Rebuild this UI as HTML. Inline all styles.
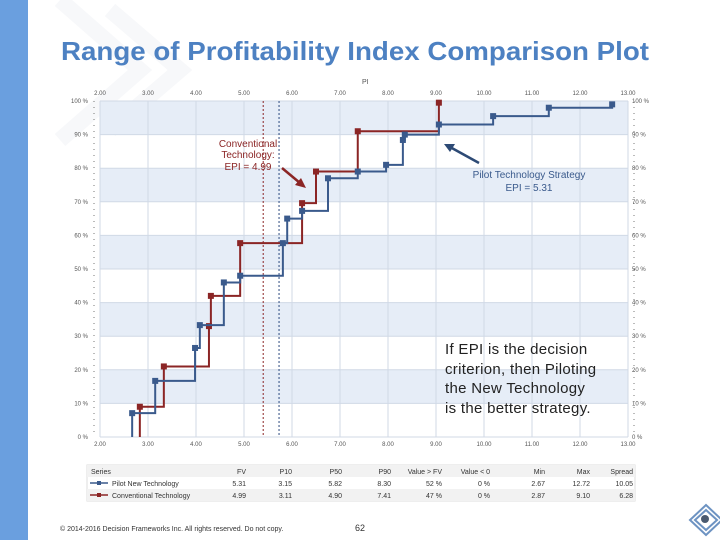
<!DOCTYPE html>
<html><head><meta charset="utf-8"><style>
body{margin:0;width:720px;height:540px;overflow:hidden;background:#fff;font-family:"Liberation Sans",sans-serif;position:relative}
</style></head><body>
<div style="position:absolute;left:0;top:0;width:28px;height:540px;background:#6a9fdf"></div>
<svg id="chart" width="720" height="540" style="position:absolute;left:0;top:0">
<g fill="none" stroke="#f7f8fa" stroke-width="16">
<polyline points="110,10 180,70 110,130"/><polyline points="60,0 140,70 60,140"/>
</g>
<text x="355" y="60" text-anchor="middle" font-size="26" font-weight="bold" fill="#4d81c2" textLength="588" lengthAdjust="spacingAndGlyphs">Range of Profitability Index Comparison Plot</text>
<text x="362" y="84" font-size="7" fill="#555">PI</text>
<g id="grid"></g><g id="series"></g>
<g fill="#8b2525" font-size="10" text-anchor="middle">
<text x="248" y="147">Conventional</text><text x="248" y="158">Technology:</text><text x="248" y="170">EPI = 4.99</text>
</g>
<line x1="282" y1="168" x2="300" y2="183" stroke="#8b2525" stroke-width="2.5"/>
<polygon points="306,188 295,185 301,178" fill="#8b2525"/>
<g fill="#3a5a8c" font-size="10" text-anchor="middle">
<text x="529" y="178">Pilot Technology Strategy</text><text x="529" y="191">EPI = 5.31</text>
</g>
<line x1="479" y1="163" x2="450" y2="147" stroke="#2d4a75" stroke-width="2.5"/>
<polygon points="444,144 455,144 450,152" fill="#2d4a75"/>
<g fill="#222" font-size="15" letter-spacing="0.3">
<text x="445" y="354">If EPI is the decision</text><text x="445" y="374">criterion, then Piloting</text><text x="445" y="393">the New Technology</text><text x="445" y="413">is the better strategy.</text>
</g>
<g id="table" font-size="7" fill="#333"></g>
<text x="60" y="531" font-size="7" fill="#333">© 2014-2016 Decision Frameworks Inc. All rights reserved. Do not copy.</text>
<text x="355" y="531" font-size="9" fill="#333">62</text>
<g fill="none" stroke="#6d93c2" stroke-width="2">
<polygon points="706,505 722,520 706,535 690,520"/><polygon points="706,510 717,520 706,530 695,520"/><circle cx="705" cy="519" r="4" fill="#4a5a70" stroke="none"/>
</g>
</svg>
<script>
const xTicks=[2,3,4,5,6,7,8,9,10,11,12,13];
const yTicks=[0,10,20,30,40,50,60,70,80,90,100];
const pilotX=[2.67,3.15,3.98,4.08,4.58,4.92,5.81,5.90,6.21,6.75,7.37,7.96,8.31,8.35,9.06,10.19,11.35,12.67];
const pilotY=[7.1,16.7,26.5,33.3,46,48,57.7,65,67.3,77,79,81,88.4,90,93,95.5,98,99];
const convX=[2.83,3.33,4.27,4.31,4.92,6.21,6.50,7.37,9.06];
const convY=[9,21,33,42,57.7,69.6,79,91,99.5];
const epiLines=[5.40,5.73];
const tableHead=["Series","FV","P10","P50","P90","Value > FV","Value < 0","Min","Max","Spread"];
const rowPilot=["Pilot New Technology","5.31","3.15","5.82","8.30","52 %","0 %","2.67","12.72","10.05"];
const rowConv=["Conventional Technology","4.99","3.11","4.90","7.41","47 %","0 %","2.87","9.10","6.28"];
const NS="http://www.w3.org/2000/svg";
const X0=100,X1=628,Y0=437,Y1=101;
const xs=v=>X0+(v-2)/11*(X1-X0);
const ys=v=>Y0-v/100*(Y0-Y1);
function mk(t,a,p){const e=document.createElementNS(NS,t);for(const k in a)e.setAttribute(k,a[k]);p.appendChild(e);return e;}
const g=document.getElementById('grid');
for(let i=0;i<10;i+=2){const r=mk('rect',{x:X0,y:ys(100-i*10),width:X1-X0,height:ys(0)-ys(10),fill:'#e6edf7'},g);

}
yTicks.forEach(v=>{const l=mk('line',{x1:X0,x2:X1,y1:ys(v),y2:ys(v),stroke:'#d0d9e6','stroke-width':1},g);


[[88,'end'],[632,'start']].forEach(([x,a])=>{const t=mk('text',{x:x,y:ys(v)+2,'font-size':6,fill:'#555','text-anchor':a},g);t.textContent=v+' %';

});});
xTicks.forEach(v=>{const l=mk('line',{x1:xs(v),x2:xs(v),y1:Y1,y2:Y0,stroke:'#d0d9e6','stroke-width':1},g);


[95,446].forEach(y=>{const t=mk('text',{x:xs(v),y:y,'font-size':6,fill:'#555','text-anchor':'middle'},g);t.textContent=v.toFixed(2);

});});
[X0-10,X1+2].forEach(x=>{const l=mk('line',{x1:x+4,x2:x+4,y1:Y1,y2:Y0,stroke:'#777','stroke-width':1,'stroke-dasharray':'1 5'},g);

});
const cols=['#8b2525','#2d4a80'];
epiLines.forEach((v,i)=>{const l=mk('line',{x1:xs(v),x2:xs(v),y1:Y1,y2:Y0,stroke:cols[i],'stroke-width':1,'stroke-dasharray':'2 2'},g);

});
const s=document.getElementById('series');
function draw(X,Y,c,name){let d='M'+xs(X[0])+','+Y0;
for(let i=0;i<X.length;i++){d+=' L'+xs(X[i])+','+ys(Y[i]);if(i<X.length-1)d+=' L'+xs(X[i+1])+','+ys(Y[i]);}
const p=mk('path',{d:d,fill:'none',stroke:c,'stroke-width':2},s);


X.forEach((x,i)=>{const r=mk('rect',{x:xs(x)-3,y:ys(Y[i])-3,width:6,height:6,fill:c},s);

});}
draw(convX,convY,cols[0],'conventional');
draw(pilotX,pilotY,'#3a5a8c','pilot');
const tb=document.getElementById('table');
const colX=[91,246,292,342,391,442,490,545,590,633];
const rows=[tableHead,rowPilot,rowConv];
mk('rect',{x:87,y:465,width:548,height:36,fill:'#fff',stroke:'#ddd'},tb);
mk('rect',{x:87,y:465,width:548,height:12,fill:'#f2f2f2'},tb);
mk('rect',{x:87,y:489,width:548,height:12,fill:'#f2f2f2'},tb);
rows.forEach((r,ri)=>{r.forEach((v,ci)=>{let x=colX[ci];if(ri>0&&ci==0)x=112;
const t=mk('text',{x:x,y:474+ri*12,'text-anchor':ci==0?'start':'end'},tb);t.textContent=v;

});});
[['#3a5a8c',486],['#8b2525',498]].forEach(([c,y])=>{mk('line',{x1:90,x2:108,y1:y-3,y2:y-3,stroke:c,'stroke-width':1.5},tb);mk('rect',{x:97,y:y-5,width:4,height:4,fill:c},tb);});
</script>
</body></html>
